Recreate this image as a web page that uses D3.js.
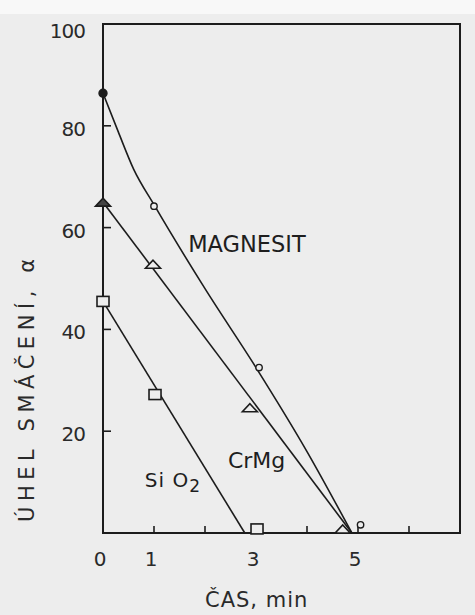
<!DOCTYPE html>
<html>
<head>
<meta charset="utf-8">
<script src="https://cdn.jsdelivr.net/npm/d3@7"></script>
<style>
    body { margin: 0; background: #ececec; }
    svg { display: block; }
    .tick-label { font-family: "DejaVu Sans", sans-serif; font-size: 20px; fill: #2a2a2a; }
    .curve-label { font-family: "DejaVu Sans", sans-serif; fill: #1e1e1e; }
    .axis-title { font-family: "DejaVu Sans", sans-serif; font-size: 21px; fill: #2a2a2a; }
</style>
</head>
<body>
<div id="chart"></div>
<script>
// measured points (time in min, wetting angle in degrees)
var magTime = [0, 1, 3.06, 5.05];
var magAngle = [86.4, 64.2, 32.5, 1.6];
var crTime = [0, 0.98, 2.88, 4.7];
var crAngle = [65.0, 52.8, 24.6, 0.8];
var siTime = [0, 1.02, 3.02];
var siAngle = [45.5, 27.2, 0.8];

// drawn trend lines
var magFitTime = [0, 0.3, 0.6, 1, 2, 3, 4, 4.88];
var magFitAngle = [86.4, 78.8, 71.5, 64.5, 48, 32.5, 16, 0];
var crFitTime = [0, 4.88];
var crFitAngle = [65.0, 0];
var siFitTime = [0, 2.78];
var siFitAngle = [45.5, 0];

var xTicks = [1, 2, 3, 4, 5, 6];
var xTickLabels = [0, 1, 3, 5];
var yTicks = [20, 40, 60, 80];
var yTickLabels = [20, 40, 60, 80, 100];

var width = 475, height = 615;
var margin = { top: 24, right: 15, bottom: 82, left: 103 };
var ink = "#1c1c1c";

var svg = d3.select("#chart").append("svg")
    .attr("width", width)
    .attr("height", height);

svg.append("rect").attr("width", width).attr("height", height).attr("fill", "#ededed");
svg.append("rect").attr("width", width).attr("height", 14).attr("fill", "#f8f8f8");

var x = d3.scaleLinear().domain([0, 7]).range([margin.left, width - margin.right]);
var y = d3.scaleLinear().domain([0, 100]).range([height - margin.bottom, margin.top]);

// frame
svg.append("rect")
    .attr("x", x(0)).attr("y", y(100))
    .attr("width", x(7) - x(0)).attr("height", y(0) - y(100))
    .attr("fill", "none").attr("stroke", ink).attr("stroke-width", 2);

// inward ticks
svg.selectAll(".xtick").data(xTicks).enter().append("line")
    .attr("x1", function(d) { return x(d); }).attr("x2", function(d) { return x(d); })
    .attr("y1", y(0)).attr("y2", y(0) - 7)
    .attr("stroke", ink).attr("stroke-width", 1.6);

svg.selectAll(".ytick").data(yTicks).enter().append("line")
    .attr("x1", x(0)).attr("x2", x(0) + 8)
    .attr("y1", function(d) { return y(d); }).attr("y2", function(d) { return y(d); })
    .attr("stroke", ink).attr("stroke-width", 1.6);

svg.selectAll(".xlab").data(xTickLabels).enter().append("text")
    .attr("class", "tick-label")
    .attr("x", function(d) { return x(d) - 3; })
    .attr("y", y(0) + 33)
    .attr("text-anchor", "middle")
    .text(function(d) { return d; });

svg.selectAll(".ylab").data(yTickLabels).enter().append("text")
    .attr("class", "tick-label")
    .attr("x", x(0) - 18)
    .attr("y", function(d) { return y(d) + (d === 100 ? 14 : 10); })
    .attr("text-anchor", "end")
    .attr("letter-spacing", -1)
    .text(function(d) { return d; });

// axis titles
svg.append("text")
    .attr("class", "axis-title")
    .attr("font-size", 22.5)
    .attr("transform", "translate(34," + 522 + ") rotate(-90)")
    .attr("textLength", 263)
    .attr("lengthAdjust", "spacing")
    .text("ÚHEL SMÁČENÍ, α");

svg.append("text")
    .attr("class", "axis-title")
    .attr("x", 205).attr("y", 607)
    .attr("letter-spacing", 1)
    .text("ČAS, min");

// trend lines
var line = d3.line()
    .x(function(d) { return x(d[0]); })
    .y(function(d) { return y(d[1]); });

function drawFit(times, angles, curve) {
    svg.append("path")
        .attr("d", line.curve(curve)(d3.zip(times, angles)))
        .attr("fill", "none").attr("stroke", ink).attr("stroke-width", 1.6);
}
drawFit(magFitTime, magFitAngle, d3.curveMonotoneX);
drawFit(crFitTime, crFitAngle, d3.curveLinear);
drawFit(siFitTime, siFitAngle, d3.curveLinear);

// markers
svg.selectAll(".mag").data(d3.zip(magTime, magAngle)).enter().append("circle")
    .attr("cx", function(d) { return x(d[0]); })
    .attr("cy", function(d) { return y(d[1]); })
    .attr("r", function(d, i) { return i === 0 ? 4 : 3.2; })
    .attr("fill", function(d, i) { return i === 0 ? ink : "#ededed"; })
    .attr("stroke", ink).attr("stroke-width", 1.4);

svg.selectAll(".cr").data(d3.zip(crTime, crAngle)).enter().append("path")
    .attr("transform", function(d) { return "translate(" + x(d[0]) + "," + y(d[1]) + ")"; })
    .attr("d", "M-7.5,4 L7.5,4 L0,-4 Z")
    .attr("fill", function(d, i) { return i === 0 ? "#444" : "#ededed"; })
    .attr("stroke", ink).attr("stroke-width", 1.6);

svg.selectAll(".si").data(d3.zip(siTime, siAngle)).enter().append("rect")
    .attr("x", function(d) { return x(d[0]) - 6; })
    .attr("y", function(d) { return y(d[1]) - 5; })
    .attr("width", 12).attr("height", 10)
    .attr("fill", "#ededed")
    .attr("stroke", ink).attr("stroke-width", 1.6);

// curve labels
svg.append("text").attr("class", "curve-label")
    .attr("x", x(1.67)).attr("y", y(55.2))
    .attr("font-size", 22.5)
    .text("MAGNESIT");

svg.append("text").attr("class", "curve-label")
    .attr("x", x(2.45)).attr("y", y(12.8))
    .attr("font-size", 22)
    .text("CrMg");

var si = svg.append("text").attr("class", "curve-label")
    .attr("x", x(0.82)).attr("y", y(9))
    .attr("font-size", 20)
    .attr("letter-spacing", 1);
si.append("tspan").text("Si O");
si.append("tspan").attr("font-size", 17).attr("dy", 5).text("2");
</script>
</body>
</html>
